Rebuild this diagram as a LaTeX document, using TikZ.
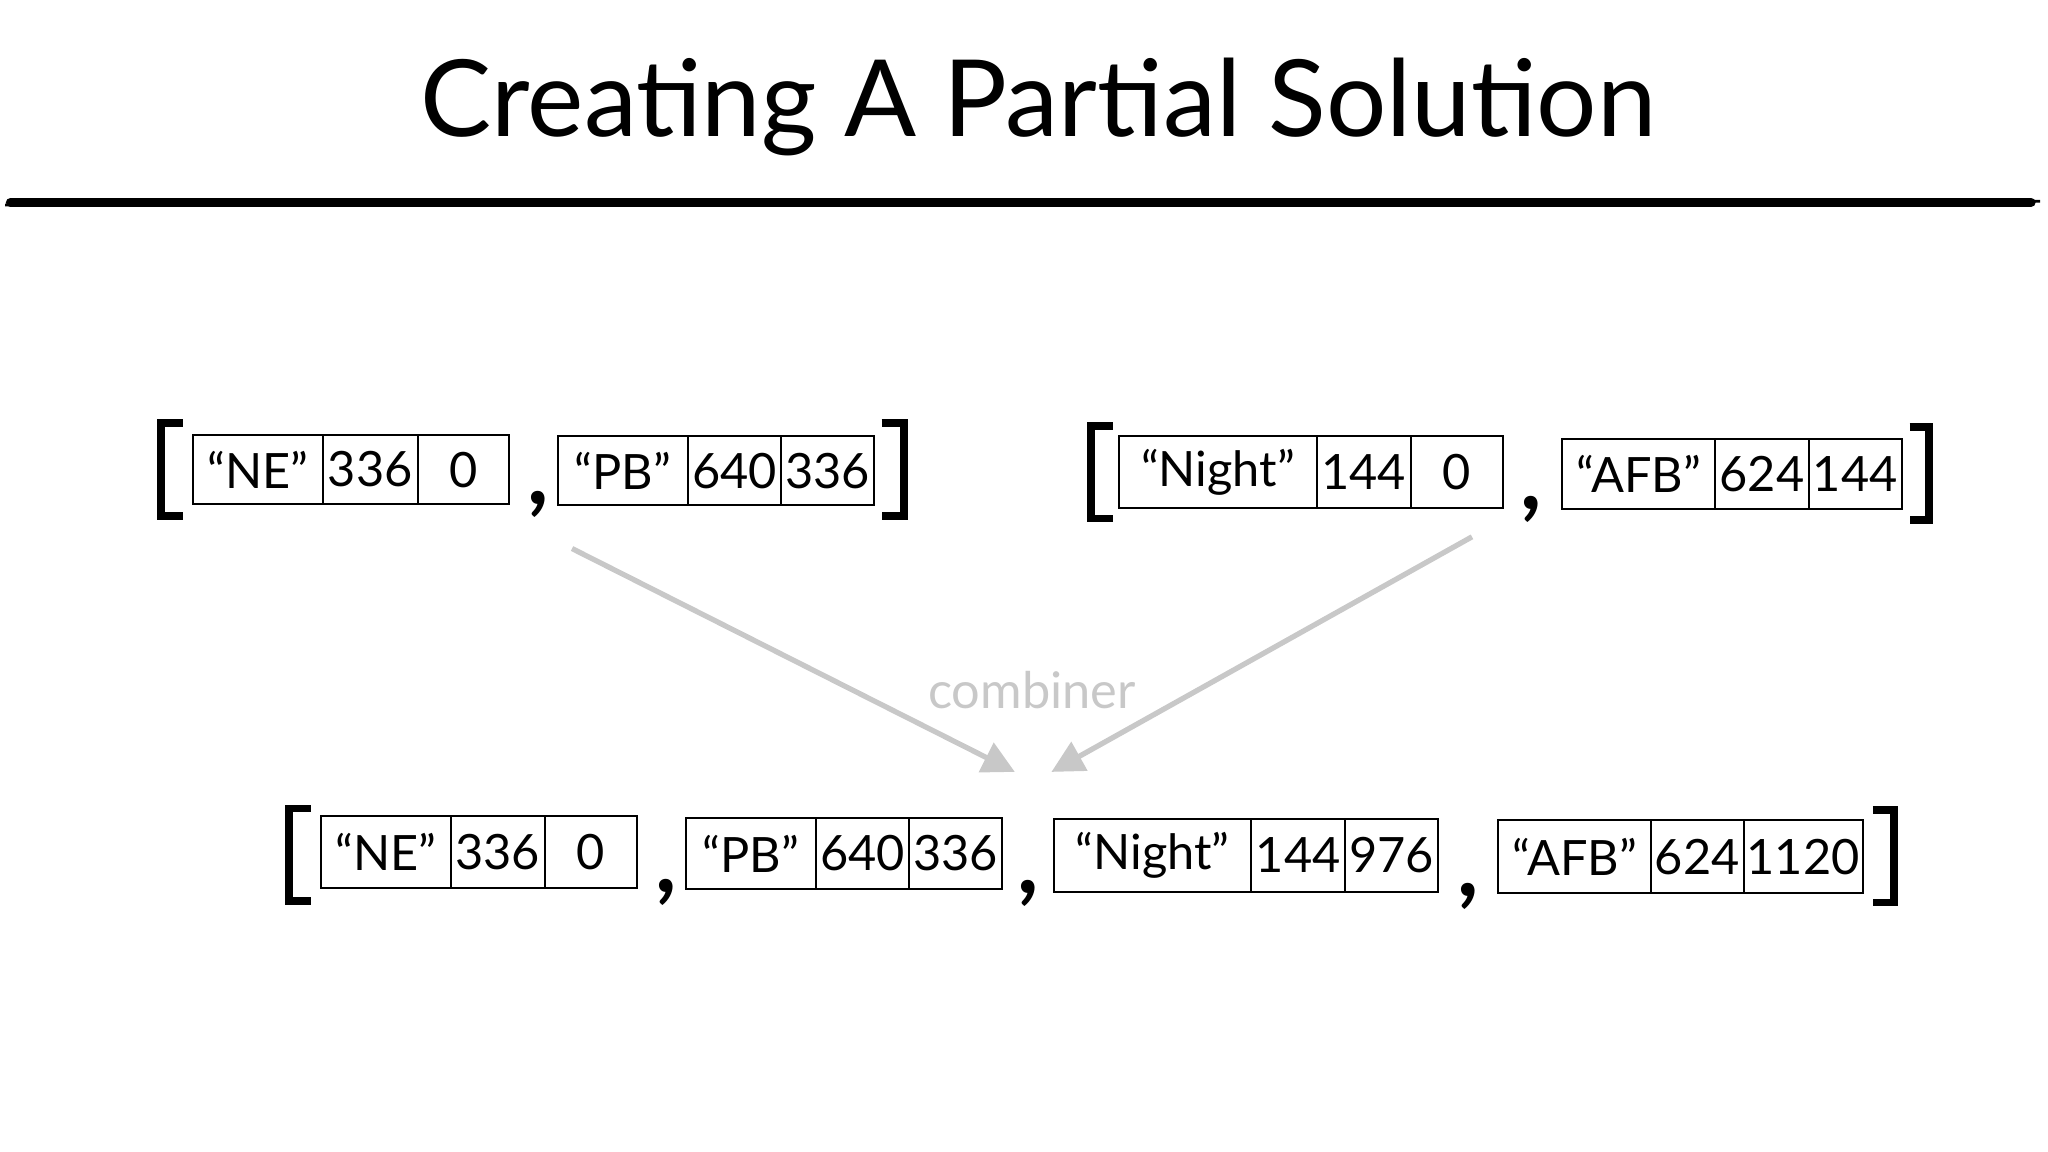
\documentclass[tikz,border=0pt]{standalone}
\usepackage{fontspec}
\setmainfont{Lato}
\usetikzlibrary{arrows.meta}
\definecolor{arrowgray}{RGB}{200,200,200}
\tikzset{
 cell/.style={draw,line width=0.45pt,inner sep=0pt,font=\fontsize{10.6}{14}\selectfont},
 brk/.style={line width=1.7pt,line cap=butt},
 comma/.style={inner sep=0pt,font=\bfseries\fontsize{20}{20}\selectfont},
 flow/.style={arrowgray,line width=1.15pt,-{Triangle[length=7pt,width=7pt]}}
}
\newcommand\cell[6]{\node[cell,minimum width={(#3-#2)*0.01cm},minimum height={(#5-#4)*0.01cm}] (#1) at ({(#2+#3)/2},{(#4+#5)/2}) {#6};}
\newcommand\lbr[4]{\draw[brk] (#2,#3) -- (#1,#3) -- (#1,#4) -- (#2,#4);}
\begin{document}
\begin{tikzpicture}[x=0.01cm,y=-0.01cm]
\useasboundingbox (0,0) rectangle (1568,882);
\node[font=\fontsize{23.2}{26}\selectfont] (title) at (795,82) {Creating A Partial Solution};
\draw[line width=2pt,line cap=round] (8,155) -- (1555,155);
\draw[line width=0.6pt] (4,157) -- (1562,154);
% row 1 left
\lbr{123}{140}{324}{395}
\cell{a1}{148}{247}{333}{386}{“NE”}
\cell{a2}{247}{320}{333}{386}{336}
\cell{a3}{320}{390}{333}{386}{0}
\node[comma] (c1) at (412,386) {,};
\cell{b1}{427}{527}{334}{387}{“PB”}
\cell{b2}{527}{598}{334}{387}{640}
\cell{b3}{598}{669}{334}{387}{336}
\lbr{692}{675}{324}{395}
% row 1 right
\lbr{835}{852}{326}{397}
\cell{n1}{857}{1008}{334}{389}{“Night”}
\cell{n2}{1008}{1080}{334}{389}{144}
\cell{n3}{1080}{1151}{334}{389}{0}
\node[comma] (c2) at (1172,390) {,};
\cell{f1}{1196}{1313}{336}{390}{“AFB”}
\cell{f2}{1313}{1385}{336}{390}{624}
\cell{f3}{1385}{1456}{336}{390}{144}
\lbr{1477}{1462}{327}{398}
% row 2
\lbr{221}{238}{619}{690}
\cell{p1}{246}{345}{625}{680}{“NE”}
\cell{p2}{345}{417}{625}{680}{336}
\cell{p3}{417}{488}{625}{680}{0}
\node[comma] (c3) at (510,683) {,};
\cell{q1}{525}{625}{626}{681}{“PB”}
\cell{q2}{625}{696}{626}{681}{640}
\cell{q3}{696}{767}{626}{681}{336}
\node[comma] (c4) at (787,684) {,};
\cell{r1}{807}{958}{627}{683}{“Night”}
\cell{r2}{958}{1030}{627}{683}{144}
\cell{r3}{1030}{1101}{627}{683}{976}
\node[comma] (c5) at (1124,686) {,};
\cell{s1}{1147}{1264}{628}{684}{“AFB”}
\cell{s2}{1264}{1335}{628}{684}{624}
\cell{s3}{1335}{1426}{628}{684}{1120}
\lbr{1450}{1434}{620}{691}
% arrows
\coordinate (s1a) at (438,420);
\coordinate (e1a) at (777,591);
\coordinate (s2a) at (1127,411);
\coordinate (e2a) at (805,591);
\draw[flow] (s1a) -- (e1a);
\draw[flow] (s2a) -- (e2a);
\node[arrowgray,font=\fontsize{11}{14}\selectfont] (comb) at (790,528) {combiner};
\end{tikzpicture}
\end{document}
